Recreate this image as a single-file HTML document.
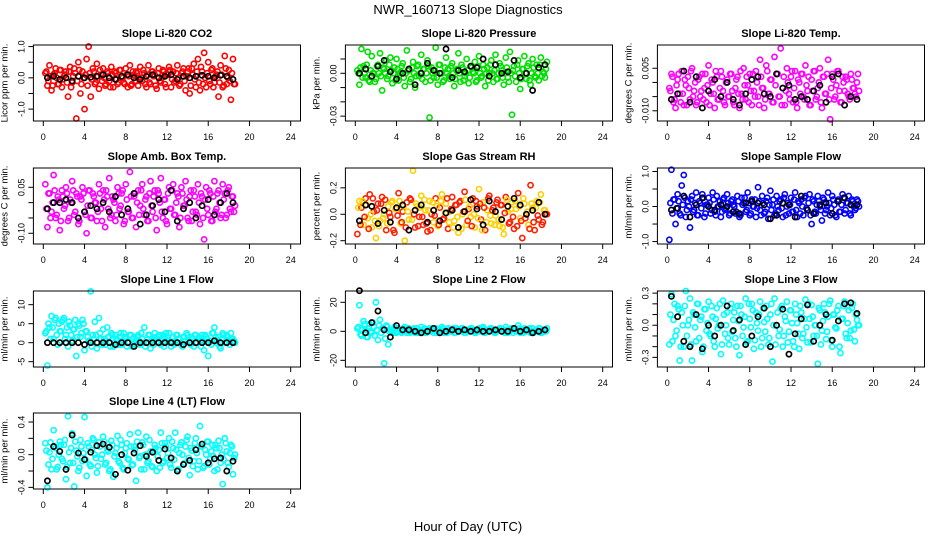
<!DOCTYPE html>
<html><head><meta charset="utf-8">
<style>
html,body{margin:0;padding:0;background:#fff;}
svg{display:block;font-family:"Liberation Sans",Arial,sans-serif;}
</style></head>
<body>
<svg id="chart" width="936" height="540" viewBox="0 0 936 540">
<rect width="936" height="540" fill="#fff"/>
<text x="468" y="14" text-anchor="middle" font-size="13">NWR_160713  Slope Diagnostics</text>
<text x="468" y="531" text-anchor="middle" font-size="13">Hour of Day (UTC)</text>
</svg>
<script>
const hoursColored = [0.2,0.4,0.6,0.8,1.0,1.2,1.4,1.6,1.8,2.0,2.2,2.4,2.6,2.8,3.0,3.2,3.4,3.6,3.8,4.0,4.2,4.4,4.6,4.8,5.0,5.2,5.4,5.6,5.8,6.0,6.2,6.4,6.6,6.8,7.0,7.2,7.4,7.6,7.8,8.0,8.2,8.4,8.6,8.8,9.0,9.2,9.4,9.6,9.8,10.0,10.2,10.4,10.6,10.8,11.0,11.2,11.4,11.6,11.8,12.0,12.2,12.4,12.6,12.8,13.0,13.2,13.4,13.6,13.8,14.0,14.2,14.4,14.6,14.8,15.0,15.2,15.4,15.6,15.8,16.0,16.2,16.4,16.6,16.8,17.0,17.2,17.4,17.6,17.8,18.0,18.2,18.4,18.6];
const hoursCore = [0.3,0.5,0.7,0.9,1.1,1.3,1.5,1.7,1.9,2.1,2.3,2.5,2.7,2.9,3.1,3.3,3.5,3.7,3.9,4.1,4.3,4.5,4.7,4.9,5.1,5.3,5.5,5.7,5.9,6.1,6.3,6.5,6.7,6.9,7.1,7.3,7.5,7.7,7.9,8.1,8.3,8.5,8.7,8.9,9.1,9.3,9.5,9.7,9.9,10.1,10.3,10.5,10.7,10.9,11.1,11.3,11.5,11.7,11.9,12.1,12.3,12.5,12.7,12.9,13.1,13.3,13.5,13.7,13.9,14.1,14.3,14.5,14.7,14.9,15.1,15.3,15.5,15.7,15.9,16.1,16.3,16.5,16.7,16.9,17.1,17.3,17.5,17.7,17.9,18.1,18.3,18.5];
const hoursBlack = [0.4,1.0,1.6,2.2,2.8,3.4,4.0,4.6,5.2,5.8,6.4,7.0,7.6,8.2,8.8,9.4,10.0,10.6,11.2,11.8,12.4,13.0,13.6,14.2,14.8,15.4,16.0,16.6,17.2,17.8,18.4];
const xTicks = [0,4,8,12,16,20,24];

const co2Colored = [0.15,-0.25,0.4,-0.4,0.1,0.3,-0.2,0.25,-0.3,0.05,0.2,-0.6,0.35,-0.15,0.3,-1.3,0.5,-0.5,0.2,-1.0,0.6,1.0,-0.6,0.3,-0.2,0.45,-0.35,0.1,0.3,-0.25,0.2,-0.1,0.35,-0.3,0.15,-0.2,0.25,0.05,-0.15,0.3,-0.3,0.4,-0.2,0.1,0.2,-0.25,0.35,-0.1,0.15,-0.3,0.4,-0.2,0.2,0.1,-0.35,0.3,-0.15,0.25,-0.2,0.1,0.35,-0.3,0.2,-0.1,0.4,-0.25,0.15,0.3,-0.4,0.2,-0.5,0.3,0.45,-0.3,0.6,-0.4,0.2,0.8,-0.3,0.5,-0.2,0.3,-0.15,0.1,-0.6,0.4,-0.3,0.7,-0.2,0.25,-0.7,0.6,-0.2];
const co2Core = [0.2,-0.1,0.05,-0.25,0.15,0.0,-0.2,0.25,-0.05,0.1,-0.15,0.2,-0.3,0.05,0.15,-0.1,0.25,-0.2,0.0,0.1,-0.25,0.15,-0.05,0.2,-0.15,0.05,0.25,-0.1,0.0,-0.2,0.15,-0.3,0.1,0.2,-0.05,-0.15,0.25,0.0,-0.2,0.1,0.05,-0.25,0.2,-0.1,0.15,-0.05,0.0,0.25,-0.2,0.1,-0.15,0.2,0.05,-0.25,0.15,-0.1,0.0,0.2,-0.3,0.1,0.25,-0.05,-0.15,0.15,0.0,-0.2,0.2,-0.1,0.05,0.3,-0.25,0.1,-0.05,0.2,-0.15,0.35,-0.2,0.0,0.15,-0.1,0.25,-0.3,0.05,0.2,-0.15,0.1,-0.25,0.3,0.0,-0.1,0.15,-0.2];
const co2Black = [0.0,0.05,-0.05,0.0,-0.1,0.05,0.0,0.02,0.05,0.1,0.0,-0.05,0.05,0.1,0.0,-0.05,0.05,0.1,0.0,0.05,0.1,-0.05,0.05,0.0,0.05,0.08,0.05,0.0,0.08,0.05,-0.05];

const pressColored = [0.002,-0.008,0.017,0.005,-0.003,0.015,-0.006,0.012,0.0,-0.004,0.006,0.014,-0.012,0.003,0.009,-0.002,0.011,-0.007,0.004,0.01,-0.005,0.001,0.007,-0.009,0.016,0.002,-0.004,0.008,-0.01,0.005,-0.002,0.013,0.003,-0.006,0.009,-0.031,0.004,-0.003,0.018,-0.008,0.006,0.0,-0.005,0.011,0.003,-0.004,0.007,-0.009,0.002,0.014,-0.006,0.004,-0.002,0.01,-0.007,0.005,0.001,0.008,-0.005,0.012,-0.003,0.006,-0.009,0.004,0.0,0.009,-0.006,0.013,-0.004,0.007,0.002,-0.008,0.011,-0.003,0.015,-0.029,0.005,-0.006,0.009,-0.011,0.003,0.012,-0.004,0.007,-0.008,0.01,-0.002,0.006,-0.005,0.011,0.001,-0.003,0.008];
const pressCore = [0.0,0.004,-0.003,0.0,0.006,-0.005,0.002,0.0,-0.006,0.005,0.0,-0.002,0.004,0.0,-0.004,0.006,0.002,0.0,-0.005,0.003,0.0,0.005,-0.003,0.0,0.002,-0.006,0.004,0.0,-0.002,0.006,0.0,-0.004,0.003,0.0,0.005,-0.005,0.0,0.002,-0.003,0.006,0.0,-0.006,0.004,0.0,-0.002,0.005,0.0,-0.004,0.003,0.0,0.006,-0.005,0.0,0.002,-0.003,0.004,0.0,-0.006,0.005,0.0,-0.002,0.003,0.0,-0.005,0.006,0.0,0.002,-0.004,0.0,0.005,-0.003,0.0,0.004,-0.006,0.0,0.002,-0.002,0.006,0.0,-0.004,0.003,0.0,0.005,-0.005,0.0,0.004,-0.003,0.0,0.006,-0.002,0.0,0.003];
const pressBlack = [0.0,0.003,-0.002,0.005,0.009,0.001,-0.004,0.0,0.003,-0.008,0.0,0.007,0.002,0.0,0.017,-0.003,0.002,0.001,0.005,0.004,0.01,-0.002,0.006,0.0,0.001,0.009,-0.003,0.0,-0.012,0.004,0.006];

const tempColored = [-0.002,0.003,-0.007,-0.009,0.001,-0.004,0.004,-0.008,-0.001,0.002,-0.006,0.005,-0.003,-0.008,0.001,-0.005,0.003,-0.002,-0.007,0.006,-0.004,0.0,-0.009,0.002,-0.006,0.004,-0.003,-0.008,0.001,-0.005,0.003,-0.007,-0.002,0.002,-0.009,-0.004,0.005,-0.006,-0.001,0.003,-0.008,-0.003,0.004,-0.005,0.008,-0.002,-0.009,0.006,-0.004,0.001,-0.007,0.009,0.003,-0.005,0.012,-0.002,-0.008,0.005,-0.004,0.002,-0.007,0.004,-0.009,0.0,0.003,-0.005,0.006,-0.003,-0.008,0.001,0.004,-0.006,-0.002,0.005,-0.009,0.002,-0.004,0.008,-0.013,0.003,-0.006,-0.001,0.004,-0.007,0.002,-0.003,0.001,-0.005,0.003,-0.002,-0.004,0.0,-0.003];
const tempCore = [-0.003,0.002,-0.006,-0.001,0.003,-0.007,-0.004,0.001,-0.008,-0.002,0.004,-0.005,0.0,-0.007,0.002,-0.003,-0.006,0.003,-0.001,-0.008,0.001,-0.004,0.004,-0.006,-0.002,0.002,-0.007,0.0,-0.005,0.003,-0.003,-0.008,0.001,-0.004,0.004,-0.006,-0.001,0.002,-0.007,-0.003,0.003,-0.005,0.0,-0.008,0.002,-0.002,-0.006,0.004,-0.004,0.001,-0.007,-0.001,0.003,-0.005,-0.008,0.002,-0.003,0.0,-0.006,0.004,-0.002,-0.007,0.001,-0.004,0.003,-0.006,-0.001,0.002,-0.008,-0.003,0.004,-0.005,0.0,-0.007,0.002,-0.004,0.003,-0.006,-0.002,0.001,-0.005,0.004,-0.003,-0.007,0.0,0.002,-0.004,-0.006,0.001,-0.002,-0.005,0.003];
const tempBlack = [-0.006,-0.004,0.004,-0.007,0.002,-0.009,-0.003,0.001,-0.005,0.0,-0.006,-0.008,-0.004,0.001,0.002,-0.004,-0.005,0.003,-0.002,-0.001,-0.006,-0.005,-0.006,-0.003,-0.001,-0.007,0.002,0.003,-0.008,-0.005,-0.006];

const ambColored = [0.06,-0.08,0.03,-0.03,0.09,-0.05,0.02,-0.09,0.04,-0.02,0.05,-0.06,0.01,0.07,-0.04,0.03,-0.07,0.02,0.05,-0.03,-0.1,0.04,-0.05,0.03,0.0,-0.06,0.06,-0.02,0.04,-0.08,0.02,0.08,-0.04,0.01,-0.06,0.05,-0.02,0.03,-0.07,0.06,-0.03,0.1,-0.05,0.02,-0.08,0.04,-0.01,0.06,-0.04,0.02,-0.06,0.07,-0.03,0.04,-0.09,0.03,0.08,-0.05,0.01,-0.07,0.05,-0.02,0.06,-0.04,0.03,-0.08,0.05,-0.01,0.07,-0.05,0.02,-0.06,0.04,-0.03,0.06,-0.07,0.02,-0.12,0.05,-0.04,0.03,-0.06,0.07,-0.02,0.04,-0.05,0.06,0.03,-0.04,0.05,-0.03,0.02,-0.01];
const ambCore = [-0.02,0.03,-0.05,0.0,0.04,-0.04,0.01,-0.06,0.02,-0.01,0.03,-0.05,0.0,0.04,-0.03,0.02,-0.06,0.01,0.03,-0.04,-0.01,0.04,-0.05,0.02,0.0,-0.03,0.03,-0.06,0.01,0.04,-0.02,-0.05,0.02,0.0,-0.04,0.03,-0.01,0.04,-0.06,0.01,-0.03,0.02,-0.05,0.03,0.0,-0.04,0.04,-0.02,0.01,-0.06,0.03,-0.01,0.02,-0.05,0.04,0.0,-0.03,0.01,-0.06,0.03,-0.02,0.04,-0.04,0.0,0.02,-0.05,0.03,-0.01,0.01,-0.06,0.04,-0.03,0.02,-0.04,0.0,0.03,-0.05,0.01,-0.02,0.04,-0.06,0.02,-0.03,0.03,0.0,-0.04,0.01,-0.05,0.04,-0.02,0.02,-0.03];
const ambBlack = [-0.02,0.0,0.0,0.01,0.0,-0.05,-0.03,-0.01,-0.02,0.0,-0.03,0.02,-0.04,-0.02,0.03,-0.07,-0.04,-0.01,0.01,-0.03,0.04,-0.06,-0.02,0.0,-0.05,-0.01,0.01,-0.04,0.0,0.03,0.0];

const rhColored = [-0.15,0.1,0.05,-0.08,0.12,-0.03,0.15,-0.1,0.02,-0.18,0.08,-0.05,0.13,0.0,-0.12,0.06,-0.02,0.1,-0.14,0.04,0.16,-0.07,0.02,-0.2,0.09,-0.04,0.11,0.33,-0.1,0.06,-0.02,0.14,-0.08,0.03,-0.13,0.1,0.0,-0.06,0.12,-0.09,0.05,0.15,-0.03,0.08,-0.11,0.02,0.13,-0.05,0.07,-0.14,0.1,0.0,0.17,-0.08,0.04,-0.02,0.12,-0.1,0.06,0.19,-0.04,0.09,-0.12,0.03,0.14,-0.07,0.05,-0.01,0.11,-0.09,0.07,-0.15,0.13,0.02,-0.06,0.09,-0.11,0.04,0.16,-0.03,-0.18,0.08,0.0,-0.08,0.22,0.05,-0.12,0.1,-0.04,0.15,-0.06,0.03,0.0];
const rhCore = [0.05,-0.08,0.1,-0.02,0.07,-0.11,0.0,0.12,-0.05,0.03,-0.09,0.08,-0.03,0.11,-0.07,0.01,0.09,-0.12,0.04,-0.01,0.1,-0.06,0.06,-0.1,0.02,0.12,-0.04,0.0,0.08,-0.09,0.05,-0.02,0.11,-0.07,0.03,-0.12,0.09,-0.01,0.06,-0.08,0.1,-0.04,0.01,0.12,-0.06,0.04,-0.1,0.07,-0.02,0.09,-0.11,0.02,0.11,-0.05,0.06,-0.09,0.0,0.1,-0.03,0.08,-0.12,0.05,-0.06,0.12,-0.01,0.03,-0.08,0.09,-0.04,0.07,-0.1,0.01,0.11,-0.07,0.04,-0.02,0.1,-0.09,0.06,-0.05,0.12,-0.03,0.02,-0.11,0.08,-0.06,0.05,-0.01,0.09,-0.08,0.03,0.0];
const rhBlack = [-0.05,0.07,0.06,-0.07,0.03,-0.06,0.05,0.07,-0.12,0.03,0.07,-0.06,0.03,-0.05,0.01,0.03,-0.1,0.02,0.11,0.04,-0.08,0.1,0.02,-0.04,0.06,0.12,0.07,0.0,0.03,0.09,0.0];

const sampleColored = [-0.95,1.05,0.2,-0.5,0.35,-0.2,0.6,0.9,-0.3,0.15,-0.6,0.3,-0.1,0.4,-0.25,0.1,0.35,-0.3,0.05,0.25,-0.2,0.4,-0.15,0.3,0.0,-0.3,0.2,-0.1,0.35,-0.25,0.15,0.05,-0.2,0.3,-0.3,0.25,0.1,-0.15,0.4,-0.25,0.2,0.0,-0.3,0.55,-0.1,0.3,-0.2,0.15,-0.35,0.45,0.05,-0.25,0.3,-0.1,0.2,-0.3,0.35,0.0,-0.2,0.25,-0.15,0.4,-0.3,0.1,0.2,-0.25,0.3,-0.1,0.35,-0.5,0.15,-0.2,0.3,0.0,-0.4,0.2,-0.1,0.4,-0.25,0.3,0.05,-0.3,0.2,-0.15,0.35,-0.2,0.1,0.3,-0.25,0.15,-0.1,0.2,0.0];
const sampleCore = [0.1,-0.2,0.2,-0.05,0.15,-0.25,0.05,0.25,-0.1,0.0,0.2,-0.15,0.1,-0.25,0.15,-0.05,0.25,-0.2,0.05,0.1,-0.1,0.2,-0.25,0.0,0.15,-0.15,0.25,-0.05,0.1,-0.2,0.2,0.0,-0.15,0.15,-0.25,0.05,0.25,-0.1,0.1,-0.2,0.0,0.2,-0.05,0.15,-0.25,0.1,-0.15,0.25,0.05,-0.1,0.2,-0.2,0.0,0.15,-0.05,0.25,-0.25,0.1,0.05,-0.15,0.2,-0.1,0.15,-0.2,0.0,0.25,-0.05,0.1,-0.25,0.2,-0.15,0.05,0.15,-0.1,0.25,-0.2,0.0,0.1,-0.05,0.2,-0.25,0.15,-0.15,0.05,0.25,-0.1,0.1,-0.2,0.2,0.0,-0.05,0.15];
const sampleBlack = [-0.1,-0.05,0.3,-0.3,0.05,0.25,0.0,-0.1,0.05,0.0,-0.15,-0.2,0.1,0.15,0.1,0.05,-0.35,-0.25,0.1,0.05,-0.3,0.3,-0.1,-0.2,0.05,0.1,-0.2,0.15,0.25,0.05,0.05];

const line1Colored = [2.5,-6,4,7,1,6.5,-0.5,3,5.5,6.5,2,-1,4.5,0.5,3.5,-3.5,5,1.5,6,-2,3,0.5,13.5,2,5.5,-1.5,6.5,1,3.5,-0.5,4,1.5,2.5,-1,2,0.5,1.5,-0.5,2.5,1,0,2,-1,1.5,0.5,2,-0.5,1,4,0,2,-1.5,1,2.5,0,1.5,-0.5,2,1,0.5,2.5,-1,1.5,0,2,1,-0.5,1.5,0.5,2,0,1.5,-1,2,1,0.5,2,-2,1.5,-3.5,0.5,2.5,4,0,1.5,-1.5,2.5,0,2,0.5,2.5,1,0];
const line1Core = [3,5,1,4,6,2,5,3,6,1,4,5.5,2,3.5,6,1.5,4.5,2.5,5,3,1.5,0.5,-1,1,2,0,2.5,-0.5,1,0.5,1.5,-1,2,0,1,-0.5,2.5,0.5,1.5,-1,0,2,1,-0.5,1.5,0.5,2.5,0,-1,1,2,0.5,-0.5,1.5,0,2,1,-1,2.5,0.5,0,1.5,-0.5,2,1,0,-1,1.5,2.5,0.5,-0.5,1,2,0,1.5,-1,0.5,2,1,0,-0.5,2.5,1.5,0.5,-1,1,2,0,1.5,-0.5,1,0.5];
const line1Black = [0,0,0,0,0,0,-0.5,0,0,0,0,-0.5,0,0,-1,0,0,0,0,0,0,0,-0.5,0,0,0,0,0.5,0,0,0];

const line2Colored = [2,18,-3,7,1,-4,5,-1,3,20,-6,8,2,-22,4,-9,1,0,3,-1,2,0,1,3,-1,2,0,1,-1,2,0,3,1,-1,0,2,1,-1,2,0,1,3,-1,0,2,1,0,-1,2,1,0,2,-1,1,0,2,1,-1,0,2,1,3,-1,0,1,2,0,-1,1,2,0,1,3,-1,0,2,1,0,4,-1,1,2,0,1,-1,2,0,1,2,-1,0,1,2];
const line2Core = [3,-2,1,5,-4,2,0,6,-3,1,4,-1,2,-5,3,0,1,-1,2,0,1,-1,2,1,0,-1,1,2,0,-1,1,0,2,-1,1,0,2,1,-1,0,1,2,0,-1,1,0,2,-1,1,0,2,1,-1,0,1,2,0,-1,1,0,2,-1,1,0,2,1,-1,0,1,2,0,-1,1,0,2,-1,1,0,2,1,-1,0,1,2,0,-1,1,0,2,-1,1,0];
const line2Black = [28,-1,6,14,1,-4,4,1,1,0,-1,0,2,-1,0,1,0,1,0,1,0,0,1,0,0,2,0,1,-1,0,1];

const line3Colored = [-0.18,0.29,0.05,-0.1,0.18,-0.33,0.12,-0.2,0.32,0.0,0.25,-0.33,0.1,-0.15,0.2,0.05,-0.25,0.15,-0.05,0.22,-0.1,0.08,-0.2,0.16,0.0,-0.27,0.23,-0.08,0.12,-0.18,0.2,0.05,-0.12,0.18,-0.28,0.1,-0.02,0.25,-0.15,0.06,0.2,-0.22,0.12,-0.05,0.22,-0.12,0.03,0.18,-0.18,0.1,-0.34,0.25,0.0,-0.1,0.16,-0.2,0.08,0.22,-0.06,0.14,-0.15,0.2,0.02,-0.22,0.12,-0.08,0.24,-0.16,0.06,0.19,-0.1,0.0,-0.36,0.14,-0.05,0.2,-0.13,0.08,0.23,-0.2,0.1,-0.03,0.18,-0.26,0.06,0.22,-0.12,0.14,-0.05,0.2,-0.15,0.05,0.0];
const line3Core = [0.1,-0.15,0.2,-0.05,0.15,-0.2,0.0,0.18,-0.1,0.05,-0.18,0.12,-0.02,0.2,-0.12,0.08,-0.2,0.15,0.02,-0.08,0.18,-0.15,0.06,-0.03,0.2,-0.18,0.1,0.0,-0.12,0.16,-0.06,0.12,-0.2,0.04,0.18,-0.1,0.08,-0.16,0.2,-0.02,0.14,-0.14,0.02,0.1,-0.2,0.16,-0.06,0.06,-0.12,0.2,0.0,-0.18,0.12,-0.04,0.18,-0.1,0.04,-0.16,0.14,0.02,-0.2,0.1,-0.08,0.18,-0.12,0.06,-0.02,0.2,-0.16,0.08,0.0,-0.1,0.16,-0.18,0.04,0.12,-0.06,0.2,-0.14,0.1,-0.02,0.14,-0.2,0.06,0.18,-0.08,0.02,-0.12,0.16,-0.04,0.1,0.0];
const line3Black = [0.27,0.08,-0.15,-0.2,0.1,-0.22,0.0,-0.1,0.0,0.18,-0.05,0.05,-0.18,-0.1,0.08,0.16,-0.2,0.0,0.15,-0.27,-0.08,0.06,0.19,-0.15,0.0,0.1,-0.14,0.04,0.2,0.21,0.11];

const line4Colored = [0.14,-0.4,0.03,-0.18,0.3,0.08,-0.15,0.16,-0.05,0.12,-0.3,0.47,-0.1,0.26,-0.39,0.05,-0.2,0.18,-0.08,0.46,-0.26,0.1,-0.14,0.2,0.0,-0.22,0.15,-0.05,0.22,-0.12,0.06,-0.2,0.17,-0.27,0.02,0.23,-0.1,0.12,-0.18,0.08,-0.05,0.25,-0.13,0.1,-0.32,0.27,-0.02,0.15,-0.18,0.22,-0.08,0.04,-0.15,0.12,-0.2,0.06,0.27,-0.1,0.14,-0.04,0.2,-0.16,0.08,0.27,-0.2,0.02,0.15,-0.12,0.1,0.22,-0.25,0.05,-0.08,0.2,-0.18,0.35,0.1,-0.14,0.0,0.16,-0.05,0.12,-0.2,0.08,0.17,-0.1,-0.36,0.2,0.04,-0.15,0.12,-0.24,0.0];
const line4Core = [0.05,-0.12,0.15,-0.05,0.1,-0.18,0.0,0.12,-0.08,0.18,-0.15,0.03,0.08,-0.1,0.16,-0.02,-0.16,0.1,0.02,-0.06,0.14,-0.12,0.06,0.18,-0.04,-0.14,0.1,0.0,0.16,-0.1,0.04,-0.18,0.12,-0.02,0.08,-0.08,0.18,-0.16,0.02,0.14,-0.06,0.1,-0.12,0.06,0.16,-0.04,-0.18,0.12,0.0,-0.1,0.18,-0.14,0.04,0.08,-0.02,-0.16,0.14,-0.08,0.1,0.02,-0.12,0.16,-0.06,0.06,-0.18,0.12,0.0,-0.1,0.18,-0.04,0.08,-0.14,0.14,0.02,-0.08,0.1,-0.16,0.06,0.16,-0.12,0.04,-0.02,0.12,-0.18,0.08,0.0,-0.06,0.14,-0.1,0.02,0.1,-0.04];
const line4Black = [-0.32,0.1,0.04,-0.18,0.24,0.02,-0.06,0.03,0.11,0.13,0.09,-0.24,0.0,-0.19,0.02,0.11,-0.02,0.03,-0.07,0.07,-0.04,-0.2,-0.12,-0.07,0.06,0.13,-0.1,-0.05,-0.04,-0.2,-0.08];

const panels = [
 {name:'co2',title:'Slope Li-820 CO2',ylab:'Licor ppm per min.',col:0,row:0,ymin:-1.38,ymax:1.05,ticks:[-1,-0.5,0,0.5,1],labels:['-1.0','','0.0','','1.0'],color:['#ff0000'],c:co2Colored,k:co2Core,b:co2Black},
 {name:'pressure',title:'Slope Li-820 Pressure',ylab:'kPa per min.',col:1,row:0,ymin:-0.0334,ymax:0.0198,ticks:[-0.03,-0.02,-0.01,0,0.01],labels:['-0.03','','','0.00',''],color:['#00e000'],c:pressColored,k:pressCore,b:pressBlack},
 {name:'temp',title:'Slope Li-820 Temp.',ylab:'degrees C per min.',col:2,row:0,ymin:-0.0136,ymax:0.0132,ticks:[-0.01,-0.005,0,0.005],labels:['-0.010','','','0.005'],color:['#ff00ff'],c:tempColored,k:tempCore,b:tempBlack},
 {name:'amb-box-temp',title:'Slope Amb. Box Temp.',ylab:'degrees C per min.',col:0,row:1,ymin:-0.135,ymax:0.113,ticks:[-0.1,-0.05,0,0.05],labels:['-0.10','','','0.05'],color:['#ff00ff'],c:ambColored,k:ambCore,b:ambBlack},
 {name:'gas-stream-rh',title:'Slope Gas Stream RH',ylab:'percent per min.',col:1,row:1,ymin:-0.225,ymax:0.35,ticks:[-0.2,0,0.2],labels:['-0.2','0.0','0.2'],color:['#ff2000','#ffd000'],c:rhColored,k:rhCore,b:rhBlack},
 {name:'sample-flow',title:'Slope Sample Flow',ylab:'ml/min per min.',col:2,row:1,ymin:-1.07,ymax:1.1,ticks:[-1,-0.5,0,0.5,1],labels:['-1.0','','0.0','','1.0'],color:['#0000ff'],c:sampleColored,k:sampleCore,b:sampleBlack},
 {name:'line1-flow',title:'Slope Line 1 Flow',ylab:'ml/min per min.',col:0,row:2,ymin:-6.4,ymax:13.6,ticks:[-5,0,5,10],labels:['-5','0','5','10'],color:['#00ffff'],c:line1Colored,k:line1Core,b:line1Black},
 {name:'line2-flow',title:'Slope Line 2 Flow',ylab:'ml/min per min.',col:1,row:2,ymin:-24.6,ymax:27.8,ticks:[-20,0,20],labels:['-20','0','20'],color:['#00ffff'],c:line2Colored,k:line2Core,b:line2Black},
 {name:'line3-flow',title:'Slope Line 3 Flow',ylab:'ml/min per min.',col:2,row:2,ymin:-0.39,ymax:0.32,ticks:[-0.3,-0.2,-0.1,0,0.1,0.2,0.3],labels:['-0.3','','','0.0','','','0.3'],color:['#00ffff'],c:line3Colored,k:line3Core,b:line3Black},
 {name:'line4-lt-flow',title:'Slope Line 4 (LT) Flow',ylab:'ml/min per min.',col:0,row:3,ymin:-0.42,ymax:0.51,ticks:[-0.4,-0.2,0,0.2,0.4],labels:['-0.4','','0.0','','0.4'],color:['#00ffff'],c:line4Colored,k:line4Core,b:line4Black}
];

const NS='http://www.w3.org/2000/svg';
const svg=document.getElementById('chart');
const rowTops=[45,168,291,413];
const H=76;
function mk(tag,attrs,parent){const e=document.createElementNS(NS,tag);for(const k in attrs)e.setAttribute(k,attrs[k]);parent.appendChild(e);return e;}

panels.forEach(p=>{
  const off=p.col*312;
  const L=33.4+off, R=300.5+off, T=rowTops[p.row], B=T+H;
  const xs=h=>43.3+off+h*(247.4/24);
  const ys=v=>B-(v-p.ymin)/(p.ymax-p.ymin)*H;
  const g=mk('g',{},svg);
  
  
  const title=mk('text',{x:(L+R)/2,y:T-8,'text-anchor':'middle','font-size':11,'font-weight':'bold'},g);
  title.textContent=p.title;
  
  
  const cx=L-26, cy=(T+B)/2;
  const yl=mk('text',{x:cx,y:cy,'text-anchor':'middle','font-size':9.5,transform:`rotate(-90 ${cx} ${cy})`},g);
  yl.textContent=p.ylab;
  
  
  const pts=mk('g',{fill:'none','stroke-width':1.6},g);
  
  
  const n=Math.min(hoursColored.length,p.c.length);
  for(let i=0;i<n;i++){
    const c=mk('circle',{cx:xs(hoursColored[i]),cy:ys(p.c[i]),r:2.6,stroke:p.color[i%p.color.length]},pts);
    
    
  }
  const n2=Math.min(hoursCore.length,p.k.length);
  for(let i=0;i<n2;i++){
    const c=mk('circle',{cx:xs(hoursCore[i]),cy:ys(p.k[i]),r:2.6,stroke:p.color[(i+1)%p.color.length]},pts);
    
    
  }
  const bpts=mk('g',{fill:'none','stroke-width':1.7,stroke:'#000'},g);
  
  
  const m=Math.min(hoursBlack.length,p.b.length);
  for(let i=0;i<m;i++){
    const c=mk('circle',{cx:xs(hoursBlack[i]),cy:ys(p.b[i]),r:2.6},bpts);
    
    
  }
  const box=mk('rect',{x:L,y:T,width:R-L,height:H,fill:'none',stroke:'#000','stroke-width':1},g);
  
  
  const xa=mk('g',{},g);
  
  
  xTicks.forEach(t=>{
    const x=xs(t);
    mk('line',{x1:x,x2:x,y1:B,y2:B+5,stroke:'#000'},xa);
    const tl=mk('text',{x:x,y:B+19,'text-anchor':'middle','font-size':9},xa);
    tl.textContent=t;
    
    
  });
  const ya=mk('g',{},g);
  
  
  p.ticks.forEach((t,i)=>{
    const y=ys(t);
    mk('line',{x1:L-5,x2:L,y1:y,y2:y,stroke:'#000'},ya);
    if(p.labels[i]){
      const tx=L-9;
      const tl=mk('text',{x:tx,y:y,'text-anchor':'middle','font-size':9,transform:`rotate(-90 ${tx} ${y})`},ya);
      tl.textContent=p.labels[i];
      
      
    }
  });
});
</script>
</body></html>
